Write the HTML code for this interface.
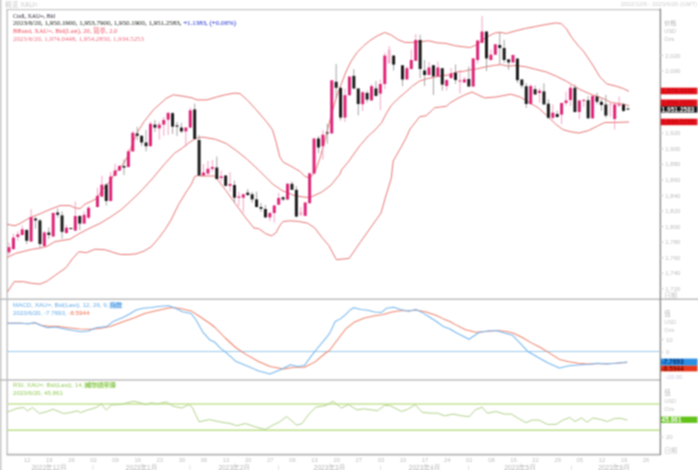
<!DOCTYPE html>
<html><head><meta charset="utf-8"><style>
html,body{margin:0;padding:0;background:#fff;width:698px;height:470px;overflow:hidden}
svg{display:block}
</style></head><body>
<svg width="698" height="470" viewBox="0 0 698 470">
<defs><filter id="bl" x="0" y="0" width="698" height="470" filterUnits="userSpaceOnUse" color-interpolation-filters="sRGB"><feConvolveMatrix order="3" kernelMatrix="0.0625 0.1250 0.0625 0.1250 0.2500 0.1250 0.0625 0.1250 0.0625" edgeMode="duplicate"/></filter></defs>
<g filter="url(#bl)">
<rect width="698" height="470" fill="#fff"/>
<rect x="0" y="0" width="1.6" height="470" fill="#cfcfcf"/>
<line x1="6.5" y1="9.6" x2="660.5" y2="9.6" stroke="#c6c6c6" stroke-width="1.4"/>
<line x1="7.2" y1="9" x2="7.2" y2="454.5" stroke="#c0c0c0" stroke-width="1.4"/>
<line x1="6.5" y1="454.6" x2="660.5" y2="454.6" stroke="#b5b5b5" stroke-width="1.6"/>
<line x1="0" y1="299.3" x2="698" y2="299.3" stroke="#bdbdbd" stroke-width="1.5"/>
<line x1="0" y1="380" x2="660" y2="380" stroke="#bdbdbd" stroke-width="1.5"/>
<line x1="660.4" y1="8.5" x2="660.4" y2="455" stroke="#8a8a8a" stroke-width="1.4"/>
<polyline points="7.0,224.3 15.0,225.8 20.0,223.5 30.0,217.6 40.0,213.8 50.0,209.4 60.0,205.6 70.0,205.6 75.0,207.9 80.0,208.6 85.0,204.2 93.0,200.5 97.4,198.0 101.8,190.0 106.2,186.0 110.7,180.0 115.1,173.0 119.5,168.0 123.9,163.0 128.4,155.0 132.8,143.0 137.0,133.0 144.0,121.7 153.7,109.5 161.0,103.0 166.0,98.5 173.3,94.8 185.0,96.5 192.0,97.9 197.0,99.9 207.0,99.9 217.7,96.7 226.2,94.6 234.7,93.1 240.0,93.6 247.2,99.9 256.3,109.9 267.1,122.5 272.5,129.8 276.2,142.4 279.8,156.9 283.4,162.3 290.6,166.0 300.0,171.4 304.9,176.5 310.0,178.0 315.0,172.0 320.0,158.0 325.0,140.0 330.0,120.0 335.0,102.0 339.0,90.0 346.3,71.0 351.0,61.5 357.0,52.5 364.0,45.5 370.0,40.5 377.0,36.0 384.7,32.5 390.9,34.8 397.8,39.5 404.7,42.4 411.5,42.5 420.1,41.6 428.7,40.8 437.3,42.8 445.9,43.4 454.5,45.6 463.1,46.8 470.3,47.5 477.2,44.4 485.8,37.5 494.4,33.2 499.5,32.3 506.4,33.5 515.0,31.0 525.3,28.5 535.6,26.5 545.9,24.5 556.2,22.9 561.4,23.7 566.5,28.9 571.7,37.5 578.6,46.1 583.4,51.1 592.8,65.1 599.8,76.8 606.8,83.9 616.2,86.2 623.2,88.5 629.0,91.4" fill="none" stroke="#e87474" stroke-width="1.0" stroke-opacity="1" stroke-linejoin="round"/>
<polyline points="7.0,257.5 15.7,253.4 31.5,249.4 41.0,247.9 47.2,246.3 55.0,241.6 70.0,239.2 80.0,233.2 90.0,228.0 100.0,223.4 110.6,217.0 121.3,209.6 131.9,200.0 142.6,189.4 153.2,177.7 163.8,164.9 174.5,153.2 181.0,149.0 190.0,142.0 196.4,138.2 202.8,137.1 215.5,139.3 226.2,143.5 236.8,151.0 247.4,159.5 258.1,169.5 266.6,178.0 272.6,184.0 282.0,190.5 293.7,195.3 303.0,197.0 310.0,197.5 321.8,192.0 331.1,185.0 340.0,174.0 341.5,170.0 349.0,161.0 353.0,155.1 360.0,145.5 368.3,136.0 375.0,130.0 381.7,122.6 386.0,114.0 391.3,105.3 399.0,97.7 404.9,92.8 412.4,86.1 419.8,80.9 427.3,78.6 434.7,77.1 442.2,75.6 449.6,74.9 457.1,71.9 464.5,71.2 468.6,70.1 477.2,68.8 485.8,66.8 494.4,65.3 501.2,64.6 508.1,66.2 515.0,65.5 525.3,66.7 535.6,69.3 545.9,71.9 556.2,76.2 566.5,81.3 573.4,85.6 580.0,89.5 590.0,94.0 602.0,98.0 611.5,102.6 620.9,103.8 629.0,105.5" fill="none" stroke="#e87474" stroke-width="1.0" stroke-opacity="1" stroke-linejoin="round"/>
<polyline points="7.4,292.0 14.2,281.7 23.6,281.7 31.5,283.3 40.2,284.1 47.2,281.0 55.1,275.4 66.1,267.6 72.4,258.9 78.7,251.8 86.6,252.6 95.0,249.2 105.5,249.8 112.5,252.2 120.7,254.5 128.9,254.5 136.0,253.9 144.1,251.0 151.1,246.9 158.2,238.7 165.2,229.4 171.0,220.0 178.7,204.3 187.2,190.4 191.5,184.0 194.7,176.6 197.9,175.5 202.0,176.0 214.9,176.0 218.7,181.0 225.8,190.4 235.1,203.3 244.5,216.2 253.9,228.0 258.7,228.7 265.8,233.7 271.5,235.8 275.8,233.0 280.1,225.1 283.0,221.5 290.2,220.8 298.4,221.4 307.7,223.2 314.8,228.0 321.8,237.3 328.8,245.5 336.4,259.7 349.1,258.4 360.6,241.8 381.0,213.0 385.5,197.0 389.5,184.0 391.3,178.0 393.2,161.0 400.9,147.5 406.0,138.0 410.0,129.0 414.0,124.0 419.8,116.6 425.8,115.9 431.7,110.7 434.7,107.7 440.7,107.0 446.6,106.2 449.6,103.2 457.1,98.7 464.5,95.0 472.0,92.0 480.0,95.8 484.7,97.9 495.9,97.0 510.8,94.2 520.1,97.0 529.4,102.6 538.7,108.2 548.0,116.6 555.5,124.0 562.9,129.6 570.0,131.6 578.7,133.0 588.1,130.7 597.5,126.0 604.5,122.5 613.9,122.5 629.0,122.0" fill="none" stroke="#e87474" stroke-width="1.0" stroke-opacity="1" stroke-linejoin="round"/>
<line x1="9.00" y1="242.7" x2="9.00" y2="254.8" stroke="#f19ac0" stroke-width="0.9"/>
<rect x="7.50" y="247.2" width="3.0" height="5.1" fill="#de2477"/>
<line x1="13.42" y1="233.8" x2="13.42" y2="250.0" stroke="#f19ac0" stroke-width="0.9"/>
<rect x="11.92" y="237.6" width="3.0" height="11.5" fill="#de2477"/>
<line x1="17.84" y1="231.3" x2="17.84" y2="240.8" stroke="#f19ac0" stroke-width="0.9"/>
<rect x="16.34" y="234.4" width="3.0" height="2.6" fill="#de2477"/>
<line x1="22.26" y1="225.5" x2="22.26" y2="235.5" stroke="#f19ac0" stroke-width="0.9"/>
<rect x="20.76" y="229.3" width="3.0" height="5.7" fill="#de2477"/>
<line x1="26.68" y1="229.0" x2="26.68" y2="244.0" stroke="#9a9a9a" stroke-width="0.9"/>
<rect x="25.18" y="230.0" width="3.0" height="10.8" fill="#1c1c1c"/>
<line x1="31.11" y1="209.0" x2="31.11" y2="241.8" stroke="#f19ac0" stroke-width="0.9"/>
<rect x="29.61" y="217.2" width="3.0" height="24.3" fill="#de2477"/>
<line x1="35.53" y1="217.0" x2="35.53" y2="228.7" stroke="#9a9a9a" stroke-width="0.9"/>
<rect x="34.03" y="218.5" width="3.0" height="1.9" fill="#1c1c1c"/>
<line x1="39.95" y1="219.0" x2="39.95" y2="247.8" stroke="#9a9a9a" stroke-width="0.9"/>
<rect x="38.45" y="220.4" width="3.0" height="23.6" fill="#1c1c1c"/>
<line x1="44.37" y1="231.0" x2="44.37" y2="247.0" stroke="#f19ac0" stroke-width="0.9"/>
<rect x="42.87" y="232.5" width="3.0" height="13.5" fill="#de2477"/>
<line x1="48.79" y1="227.4" x2="48.79" y2="239.0" stroke="#9a9a9a" stroke-width="0.9"/>
<rect x="47.29" y="232.5" width="3.0" height="2.5" fill="#1c1c1c"/>
<line x1="53.21" y1="212.0" x2="53.21" y2="237.0" stroke="#f19ac0" stroke-width="0.9"/>
<rect x="51.71" y="213.0" width="3.0" height="23.5" fill="#de2477"/>
<line x1="57.63" y1="208.4" x2="57.63" y2="217.7" stroke="#9a9a9a" stroke-width="0.9"/>
<rect x="56.13" y="212.5" width="3.0" height="2.3" fill="#1c1c1c"/>
<line x1="62.05" y1="211.3" x2="62.05" y2="238.8" stroke="#9a9a9a" stroke-width="0.9"/>
<rect x="60.55" y="215.4" width="3.0" height="16.4" fill="#1c1c1c"/>
<line x1="66.47" y1="224.8" x2="66.47" y2="234.0" stroke="#f19ac0" stroke-width="0.9"/>
<rect x="64.97" y="227.7" width="3.0" height="5.3" fill="#de2477"/>
<line x1="70.89" y1="227.5" x2="70.89" y2="229.5" stroke="#9a9a9a" stroke-width="0.9"/>
<rect x="69.39" y="228.0" width="3.0" height="1.0" fill="#1c1c1c"/>
<line x1="75.31" y1="201.4" x2="75.31" y2="231.0" stroke="#f19ac0" stroke-width="0.9"/>
<rect x="73.81" y="216.0" width="3.0" height="14.6" fill="#de2477"/>
<line x1="79.74" y1="215.0" x2="79.74" y2="230.0" stroke="#9a9a9a" stroke-width="0.9"/>
<rect x="78.24" y="216.0" width="3.0" height="7.6" fill="#1c1c1c"/>
<line x1="84.16" y1="211.3" x2="84.16" y2="224.0" stroke="#f19ac0" stroke-width="0.9"/>
<rect x="82.66" y="214.8" width="3.0" height="8.8" fill="#de2477"/>
<line x1="88.58" y1="206.0" x2="88.58" y2="219.0" stroke="#f19ac0" stroke-width="0.9"/>
<rect x="87.08" y="207.8" width="3.0" height="9.9" fill="#de2477"/>
<line x1="97.42" y1="187.7" x2="97.42" y2="207.5" stroke="#f19ac0" stroke-width="0.9"/>
<rect x="95.92" y="195.9" width="3.0" height="11.1" fill="#de2477"/>
<line x1="101.84" y1="175.8" x2="101.84" y2="197.0" stroke="#f19ac0" stroke-width="0.9"/>
<rect x="100.34" y="184.7" width="3.0" height="11.9" fill="#de2477"/>
<line x1="106.26" y1="183.0" x2="106.26" y2="205.6" stroke="#9a9a9a" stroke-width="0.9"/>
<rect x="104.76" y="184.7" width="3.0" height="16.3" fill="#1c1c1c"/>
<line x1="110.68" y1="172.0" x2="110.68" y2="201.5" stroke="#f19ac0" stroke-width="0.9"/>
<rect x="109.18" y="176.5" width="3.0" height="24.5" fill="#de2477"/>
<line x1="115.10" y1="163.8" x2="115.10" y2="176.0" stroke="#f19ac0" stroke-width="0.9"/>
<rect x="113.60" y="170.5" width="3.0" height="5.3" fill="#de2477"/>
<line x1="119.53" y1="165.0" x2="119.53" y2="171.0" stroke="#f19ac0" stroke-width="0.9"/>
<rect x="118.03" y="166.0" width="3.0" height="4.5" fill="#de2477"/>
<line x1="123.95" y1="159.4" x2="123.95" y2="175.0" stroke="#9a9a9a" stroke-width="0.9"/>
<rect x="122.45" y="166.0" width="3.0" height="1.6" fill="#1c1c1c"/>
<line x1="128.37" y1="149.0" x2="128.37" y2="167.5" stroke="#f19ac0" stroke-width="0.9"/>
<rect x="126.87" y="151.4" width="3.0" height="15.6" fill="#de2477"/>
<line x1="132.79" y1="131.0" x2="132.79" y2="152.0" stroke="#f19ac0" stroke-width="0.9"/>
<rect x="131.29" y="132.8" width="3.0" height="18.6" fill="#de2477"/>
<line x1="137.21" y1="126.8" x2="137.21" y2="140.2" stroke="#9a9a9a" stroke-width="0.9"/>
<rect x="135.71" y="133.5" width="3.0" height="2.3" fill="#1c1c1c"/>
<line x1="141.63" y1="135.0" x2="141.63" y2="146.0" stroke="#9a9a9a" stroke-width="0.9"/>
<rect x="140.13" y="135.8" width="3.0" height="6.7" fill="#1c1c1c"/>
<line x1="146.05" y1="129.8" x2="146.05" y2="151.4" stroke="#9a9a9a" stroke-width="0.9"/>
<rect x="144.55" y="142.5" width="3.0" height="3.7" fill="#1c1c1c"/>
<line x1="150.47" y1="121.6" x2="150.47" y2="146.5" stroke="#f19ac0" stroke-width="0.9"/>
<rect x="148.97" y="123.8" width="3.0" height="22.4" fill="#de2477"/>
<line x1="154.89" y1="120.0" x2="154.89" y2="132.0" stroke="#9a9a9a" stroke-width="0.9"/>
<rect x="153.39" y="124.6" width="3.0" height="3.0" fill="#1c1c1c"/>
<line x1="159.31" y1="121.6" x2="159.31" y2="139.5" stroke="#f19ac0" stroke-width="0.9"/>
<rect x="157.81" y="124.6" width="3.0" height="3.7" fill="#de2477"/>
<line x1="163.74" y1="117.0" x2="163.74" y2="135.8" stroke="#f19ac0" stroke-width="0.9"/>
<rect x="162.24" y="120.0" width="3.0" height="4.6" fill="#de2477"/>
<line x1="168.16" y1="112.0" x2="168.16" y2="135.0" stroke="#f19ac0" stroke-width="0.9"/>
<rect x="166.66" y="112.9" width="3.0" height="6.8" fill="#de2477"/>
<line x1="172.58" y1="112.0" x2="172.58" y2="134.0" stroke="#9a9a9a" stroke-width="0.9"/>
<rect x="171.08" y="113.2" width="3.0" height="13.4" fill="#1c1c1c"/>
<line x1="177.00" y1="121.8" x2="177.00" y2="136.0" stroke="#9a9a9a" stroke-width="0.9"/>
<rect x="175.50" y="125.4" width="3.0" height="1.2" fill="#1c1c1c"/>
<line x1="181.42" y1="122.8" x2="181.42" y2="133.0" stroke="#9a9a9a" stroke-width="0.9"/>
<rect x="179.92" y="127.6" width="3.0" height="3.8" fill="#1c1c1c"/>
<line x1="185.84" y1="127.0" x2="185.84" y2="146.7" stroke="#f19ac0" stroke-width="0.9"/>
<rect x="184.34" y="127.6" width="3.0" height="3.8" fill="#de2477"/>
<line x1="190.26" y1="107.5" x2="190.26" y2="128.0" stroke="#f19ac0" stroke-width="0.9"/>
<rect x="188.76" y="110.3" width="3.0" height="17.3" fill="#de2477"/>
<line x1="194.68" y1="103.6" x2="194.68" y2="139.5" stroke="#9a9a9a" stroke-width="0.9"/>
<rect x="193.18" y="109.4" width="3.0" height="29.6" fill="#1c1c1c"/>
<line x1="199.10" y1="135.0" x2="199.10" y2="176.0" stroke="#9a9a9a" stroke-width="0.9"/>
<rect x="197.60" y="140.0" width="3.0" height="35.5" fill="#1c1c1c"/>
<line x1="203.52" y1="164.0" x2="203.52" y2="176.0" stroke="#f19ac0" stroke-width="0.9"/>
<rect x="202.02" y="172.6" width="3.0" height="2.9" fill="#de2477"/>
<line x1="207.95" y1="161.0" x2="207.95" y2="175.5" stroke="#f19ac0" stroke-width="0.9"/>
<rect x="206.45" y="168.8" width="3.0" height="4.7" fill="#de2477"/>
<line x1="212.37" y1="160.0" x2="212.37" y2="171.6" stroke="#f19ac0" stroke-width="0.9"/>
<rect x="210.87" y="167.0" width="3.0" height="1.8" fill="#de2477"/>
<line x1="216.79" y1="156.5" x2="216.79" y2="179.5" stroke="#9a9a9a" stroke-width="0.9"/>
<rect x="215.29" y="167.5" width="3.0" height="11.5" fill="#1c1c1c"/>
<line x1="221.21" y1="170.4" x2="221.21" y2="181.5" stroke="#f19ac0" stroke-width="0.9"/>
<rect x="219.71" y="176.4" width="3.0" height="1.6" fill="#de2477"/>
<line x1="225.63" y1="175.0" x2="225.63" y2="186.5" stroke="#9a9a9a" stroke-width="0.9"/>
<rect x="224.13" y="175.5" width="3.0" height="10.3" fill="#1c1c1c"/>
<line x1="230.05" y1="172.0" x2="230.05" y2="191.7" stroke="#f19ac0" stroke-width="0.9"/>
<rect x="228.55" y="184.0" width="3.0" height="1.8" fill="#de2477"/>
<line x1="234.47" y1="180.7" x2="234.47" y2="202.8" stroke="#9a9a9a" stroke-width="0.9"/>
<rect x="232.97" y="185.0" width="3.0" height="12.7" fill="#1c1c1c"/>
<line x1="238.89" y1="191.7" x2="238.89" y2="206.0" stroke="#f19ac0" stroke-width="0.9"/>
<rect x="237.39" y="196.5" width="3.0" height="1.2" fill="#de2477"/>
<line x1="243.31" y1="193.4" x2="243.31" y2="212.2" stroke="#f19ac0" stroke-width="0.9"/>
<rect x="241.81" y="194.3" width="3.0" height="3.4" fill="#de2477"/>
<line x1="247.73" y1="189.0" x2="247.73" y2="196.0" stroke="#9a9a9a" stroke-width="0.9"/>
<rect x="246.23" y="192.6" width="3.0" height="2.4" fill="#1c1c1c"/>
<line x1="252.16" y1="192.0" x2="252.16" y2="203.0" stroke="#9a9a9a" stroke-width="0.9"/>
<rect x="250.66" y="194.3" width="3.0" height="5.1" fill="#1c1c1c"/>
<line x1="256.58" y1="191.7" x2="256.58" y2="207.5" stroke="#9a9a9a" stroke-width="0.9"/>
<rect x="255.08" y="199.4" width="3.0" height="7.6" fill="#1c1c1c"/>
<line x1="261.00" y1="203.0" x2="261.00" y2="212.0" stroke="#9a9a9a" stroke-width="0.9"/>
<rect x="259.50" y="207.0" width="3.0" height="1.8" fill="#1c1c1c"/>
<line x1="265.42" y1="205.0" x2="265.42" y2="218.0" stroke="#9a9a9a" stroke-width="0.9"/>
<rect x="263.92" y="209.0" width="3.0" height="8.4" fill="#1c1c1c"/>
<line x1="269.84" y1="212.0" x2="269.84" y2="221.0" stroke="#f19ac0" stroke-width="0.9"/>
<rect x="268.34" y="213.0" width="3.0" height="4.4" fill="#de2477"/>
<line x1="274.26" y1="205.0" x2="274.26" y2="222.6" stroke="#f19ac0" stroke-width="0.9"/>
<rect x="272.76" y="205.5" width="3.0" height="7.5" fill="#de2477"/>
<line x1="278.68" y1="192.8" x2="278.68" y2="205.0" stroke="#f19ac0" stroke-width="0.9"/>
<rect x="277.18" y="198.0" width="3.0" height="6.7" fill="#de2477"/>
<line x1="283.10" y1="196.0" x2="283.10" y2="201.0" stroke="#9a9a9a" stroke-width="0.9"/>
<rect x="281.60" y="197.3" width="3.0" height="2.2" fill="#1c1c1c"/>
<line x1="287.52" y1="183.0" x2="287.52" y2="200.0" stroke="#f19ac0" stroke-width="0.9"/>
<rect x="286.02" y="183.8" width="3.0" height="15.7" fill="#de2477"/>
<line x1="291.94" y1="181.6" x2="291.94" y2="190.0" stroke="#9a9a9a" stroke-width="0.9"/>
<rect x="290.44" y="183.8" width="3.0" height="6.0" fill="#1c1c1c"/>
<line x1="296.37" y1="186.0" x2="296.37" y2="217.0" stroke="#9a9a9a" stroke-width="0.9"/>
<rect x="294.87" y="189.8" width="3.0" height="26.8" fill="#1c1c1c"/>
<line x1="300.79" y1="207.0" x2="300.79" y2="216.0" stroke="#f19ac0" stroke-width="0.9"/>
<rect x="299.29" y="212.0" width="3.0" height="3.0" fill="#f5b5d0"/>
<line x1="305.21" y1="202.0" x2="305.21" y2="216.0" stroke="#f19ac0" stroke-width="0.9"/>
<rect x="303.71" y="202.5" width="3.0" height="13.4" fill="#de2477"/>
<line x1="309.63" y1="172.5" x2="309.63" y2="203.5" stroke="#f19ac0" stroke-width="0.9"/>
<rect x="308.13" y="173.4" width="3.0" height="29.8" fill="#de2477"/>
<line x1="314.05" y1="138.0" x2="314.05" y2="174.0" stroke="#f19ac0" stroke-width="0.9"/>
<rect x="312.55" y="138.5" width="3.0" height="35.1" fill="#de2477"/>
<line x1="318.47" y1="136.0" x2="318.47" y2="153.2" stroke="#9a9a9a" stroke-width="0.9"/>
<rect x="316.97" y="138.5" width="3.0" height="9.0" fill="#1c1c1c"/>
<line x1="322.89" y1="130.0" x2="322.89" y2="159.6" stroke="#f19ac0" stroke-width="0.9"/>
<rect x="321.39" y="134.7" width="3.0" height="11.5" fill="#de2477"/>
<line x1="327.31" y1="123.8" x2="327.31" y2="143.6" stroke="#9a9a9a" stroke-width="0.9"/>
<rect x="325.81" y="132.4" width="3.0" height="1.0" fill="#1c1c1c"/>
<line x1="331.73" y1="80.0" x2="331.73" y2="134.0" stroke="#f19ac0" stroke-width="0.9"/>
<rect x="330.23" y="80.3" width="3.0" height="53.1" fill="#de2477"/>
<line x1="336.15" y1="64.0" x2="336.15" y2="98.0" stroke="#9a9a9a" stroke-width="0.9"/>
<rect x="334.65" y="81.8" width="3.0" height="6.0" fill="#1c1c1c"/>
<line x1="340.58" y1="87.0" x2="340.58" y2="120.6" stroke="#9a9a9a" stroke-width="0.9"/>
<rect x="339.08" y="87.8" width="3.0" height="29.8" fill="#1c1c1c"/>
<line x1="345.00" y1="88.5" x2="345.00" y2="122.0" stroke="#f19ac0" stroke-width="0.9"/>
<rect x="343.50" y="95.2" width="3.0" height="22.4" fill="#de2477"/>
<line x1="349.42" y1="76.0" x2="349.42" y2="96.0" stroke="#f19ac0" stroke-width="0.9"/>
<rect x="347.92" y="76.6" width="3.0" height="18.6" fill="#de2477"/>
<line x1="353.84" y1="69.2" x2="353.84" y2="89.0" stroke="#9a9a9a" stroke-width="0.9"/>
<rect x="352.34" y="75.9" width="3.0" height="12.6" fill="#1c1c1c"/>
<line x1="358.26" y1="88.0" x2="358.26" y2="115.3" stroke="#9a9a9a" stroke-width="0.9"/>
<rect x="356.76" y="88.5" width="3.0" height="15.5" fill="#1c1c1c"/>
<line x1="362.68" y1="91.0" x2="362.68" y2="111.0" stroke="#f19ac0" stroke-width="0.9"/>
<rect x="361.18" y="92.3" width="3.0" height="11.9" fill="#de2477"/>
<line x1="367.10" y1="90.7" x2="367.10" y2="102.6" stroke="#9a9a9a" stroke-width="0.9"/>
<rect x="365.60" y="93.0" width="3.0" height="6.6" fill="#1c1c1c"/>
<line x1="371.52" y1="84.0" x2="371.52" y2="101.0" stroke="#f19ac0" stroke-width="0.9"/>
<rect x="370.02" y="86.2" width="3.0" height="14.2" fill="#de2477"/>
<line x1="375.94" y1="81.0" x2="375.94" y2="96.5" stroke="#9a9a9a" stroke-width="0.9"/>
<rect x="374.44" y="88.4" width="3.0" height="7.5" fill="#1c1c1c"/>
<line x1="380.36" y1="79.5" x2="380.36" y2="110.0" stroke="#f19ac0" stroke-width="0.9"/>
<rect x="378.86" y="84.0" width="3.0" height="9.6" fill="#de2477"/>
<line x1="384.79" y1="52.7" x2="384.79" y2="89.0" stroke="#f19ac0" stroke-width="0.9"/>
<rect x="383.29" y="55.6" width="3.0" height="28.4" fill="#de2477"/>
<line x1="389.21" y1="46.0" x2="389.21" y2="64.0" stroke="#f19ac0" stroke-width="0.9"/>
<rect x="387.71" y="49.7" width="3.0" height="13.3" fill="#f5b5d0"/>
<line x1="393.63" y1="55.0" x2="393.63" y2="70.5" stroke="#9a9a9a" stroke-width="0.9"/>
<rect x="392.13" y="55.6" width="3.0" height="9.0" fill="#1c1c1c"/>
<line x1="402.47" y1="65.0" x2="402.47" y2="86.2" stroke="#9a9a9a" stroke-width="0.9"/>
<rect x="400.97" y="65.3" width="3.0" height="14.2" fill="#1c1c1c"/>
<line x1="406.89" y1="66.0" x2="406.89" y2="80.0" stroke="#f19ac0" stroke-width="0.9"/>
<rect x="405.39" y="68.2" width="3.0" height="11.2" fill="#de2477"/>
<line x1="411.31" y1="49.6" x2="411.31" y2="69.5" stroke="#f19ac0" stroke-width="0.9"/>
<rect x="409.81" y="60.0" width="3.0" height="9.0" fill="#de2477"/>
<line x1="415.73" y1="34.0" x2="415.73" y2="61.0" stroke="#f19ac0" stroke-width="0.9"/>
<rect x="414.23" y="40.0" width="3.0" height="20.8" fill="#de2477"/>
<line x1="420.15" y1="34.7" x2="420.15" y2="78.0" stroke="#9a9a9a" stroke-width="0.9"/>
<rect x="418.65" y="40.0" width="3.0" height="29.0" fill="#1c1c1c"/>
<line x1="424.57" y1="60.0" x2="424.57" y2="86.0" stroke="#9a9a9a" stroke-width="0.9"/>
<rect x="423.07" y="70.5" width="3.0" height="4.5" fill="#1c1c1c"/>
<line x1="429.00" y1="62.0" x2="429.00" y2="75.5" stroke="#f19ac0" stroke-width="0.9"/>
<rect x="427.50" y="67.5" width="3.0" height="7.5" fill="#de2477"/>
<line x1="433.42" y1="65.0" x2="433.42" y2="95.0" stroke="#9a9a9a" stroke-width="0.9"/>
<rect x="431.92" y="65.2" width="3.0" height="11.2" fill="#1c1c1c"/>
<line x1="437.84" y1="61.5" x2="437.84" y2="77.0" stroke="#f19ac0" stroke-width="0.9"/>
<rect x="436.34" y="67.5" width="3.0" height="8.9" fill="#de2477"/>
<line x1="442.26" y1="68.0" x2="442.26" y2="90.6" stroke="#9a9a9a" stroke-width="0.9"/>
<rect x="440.76" y="68.2" width="3.0" height="16.4" fill="#1c1c1c"/>
<line x1="446.68" y1="79.0" x2="446.68" y2="90.6" stroke="#f19ac0" stroke-width="0.9"/>
<rect x="445.18" y="80.0" width="3.0" height="6.0" fill="#de2477"/>
<line x1="451.10" y1="68.0" x2="451.10" y2="79.0" stroke="#f19ac0" stroke-width="0.9"/>
<rect x="449.60" y="73.4" width="3.0" height="4.6" fill="#de2477"/>
<line x1="455.52" y1="64.5" x2="455.52" y2="83.9" stroke="#9a9a9a" stroke-width="0.9"/>
<rect x="454.02" y="72.7" width="3.0" height="7.3" fill="#1c1c1c"/>
<line x1="459.94" y1="70.0" x2="459.94" y2="93.5" stroke="#f19ac0" stroke-width="0.9"/>
<rect x="458.44" y="80.5" width="3.0" height="1.0" fill="#de2477"/>
<line x1="464.36" y1="77.0" x2="464.36" y2="83.0" stroke="#f19ac0" stroke-width="0.9"/>
<rect x="462.86" y="79.4" width="3.0" height="3.0" fill="#de2477"/>
<line x1="468.78" y1="66.6" x2="468.78" y2="87.0" stroke="#9a9a9a" stroke-width="0.9"/>
<rect x="467.28" y="79.0" width="3.0" height="7.5" fill="#1c1c1c"/>
<line x1="473.21" y1="58.0" x2="473.21" y2="87.0" stroke="#f19ac0" stroke-width="0.9"/>
<rect x="471.71" y="58.4" width="3.0" height="28.1" fill="#de2477"/>
<line x1="477.63" y1="40.0" x2="477.63" y2="63.6" stroke="#f19ac0" stroke-width="0.9"/>
<rect x="476.13" y="40.5" width="3.0" height="19.5" fill="#de2477"/>
<line x1="482.05" y1="16.0" x2="482.05" y2="43.0" stroke="#f19ac0" stroke-width="0.9"/>
<rect x="480.55" y="31.6" width="3.0" height="11.2" fill="#de2477"/>
<line x1="486.47" y1="31.0" x2="486.47" y2="71.0" stroke="#9a9a9a" stroke-width="0.9"/>
<rect x="484.97" y="31.6" width="3.0" height="26.8" fill="#1c1c1c"/>
<line x1="490.89" y1="49.5" x2="490.89" y2="60.5" stroke="#f19ac0" stroke-width="0.9"/>
<rect x="489.39" y="54.7" width="3.0" height="5.3" fill="#de2477"/>
<line x1="495.31" y1="44.0" x2="495.31" y2="55.0" stroke="#f19ac0" stroke-width="0.9"/>
<rect x="493.81" y="44.3" width="3.0" height="10.4" fill="#de2477"/>
<line x1="499.73" y1="32.0" x2="499.73" y2="64.0" stroke="#9a9a9a" stroke-width="0.9"/>
<rect x="498.23" y="45.0" width="3.0" height="3.0" fill="#1c1c1c"/>
<line x1="504.15" y1="39.8" x2="504.15" y2="63.0" stroke="#9a9a9a" stroke-width="0.9"/>
<rect x="502.65" y="48.0" width="3.0" height="12.0" fill="#1c1c1c"/>
<line x1="508.57" y1="59.0" x2="508.57" y2="69.8" stroke="#9a9a9a" stroke-width="0.9"/>
<rect x="507.07" y="59.4" width="3.0" height="3.0" fill="#1c1c1c"/>
<line x1="512.99" y1="54.5" x2="512.99" y2="63.0" stroke="#f19ac0" stroke-width="0.9"/>
<rect x="511.49" y="55.0" width="3.0" height="7.4" fill="#de2477"/>
<line x1="517.41" y1="58.0" x2="517.41" y2="83.0" stroke="#9a9a9a" stroke-width="0.9"/>
<rect x="515.91" y="58.6" width="3.0" height="21.6" fill="#1c1c1c"/>
<line x1="521.84" y1="79.0" x2="521.84" y2="88.4" stroke="#9a9a9a" stroke-width="0.9"/>
<rect x="520.34" y="79.5" width="3.0" height="6.0" fill="#1c1c1c"/>
<line x1="526.26" y1="83.0" x2="526.26" y2="108.0" stroke="#9a9a9a" stroke-width="0.9"/>
<rect x="524.76" y="86.2" width="3.0" height="17.8" fill="#1c1c1c"/>
<line x1="530.68" y1="84.0" x2="530.68" y2="105.0" stroke="#f19ac0" stroke-width="0.9"/>
<rect x="529.18" y="86.0" width="3.0" height="18.0" fill="#de2477"/>
<line x1="535.10" y1="85.5" x2="535.10" y2="95.0" stroke="#9a9a9a" stroke-width="0.9"/>
<rect x="533.60" y="89.2" width="3.0" height="5.2" fill="#1c1c1c"/>
<line x1="539.52" y1="88.0" x2="539.52" y2="102.6" stroke="#f19ac0" stroke-width="0.9"/>
<rect x="538.02" y="90.7" width="3.0" height="2.3" fill="#de2477"/>
<line x1="543.94" y1="83.3" x2="543.94" y2="105.0" stroke="#9a9a9a" stroke-width="0.9"/>
<rect x="542.44" y="91.4" width="3.0" height="13.0" fill="#1c1c1c"/>
<line x1="548.36" y1="99.3" x2="548.36" y2="119.0" stroke="#9a9a9a" stroke-width="0.9"/>
<rect x="546.86" y="103.7" width="3.0" height="14.1" fill="#1c1c1c"/>
<line x1="552.78" y1="104.4" x2="552.78" y2="119.7" stroke="#f19ac0" stroke-width="0.9"/>
<rect x="551.28" y="112.7" width="3.0" height="5.1" fill="#de2477"/>
<line x1="557.20" y1="110.7" x2="557.20" y2="117.8" stroke="#9a9a9a" stroke-width="0.9"/>
<rect x="555.70" y="114.0" width="3.0" height="3.0" fill="#1c1c1c"/>
<line x1="561.62" y1="102.5" x2="561.62" y2="124.0" stroke="#f19ac0" stroke-width="0.9"/>
<rect x="560.12" y="103.0" width="3.0" height="11.6" fill="#de2477"/>
<line x1="566.05" y1="91.6" x2="566.05" y2="105.6" stroke="#f19ac0" stroke-width="0.9"/>
<rect x="564.55" y="100.5" width="3.0" height="2.5" fill="#de2477"/>
<line x1="570.47" y1="85.2" x2="570.47" y2="106.0" stroke="#f19ac0" stroke-width="0.9"/>
<rect x="568.97" y="87.8" width="3.0" height="12.2" fill="#de2477"/>
<line x1="574.89" y1="84.6" x2="574.89" y2="112.5" stroke="#9a9a9a" stroke-width="0.9"/>
<rect x="573.39" y="87.8" width="3.0" height="24.2" fill="#1c1c1c"/>
<line x1="579.31" y1="100.0" x2="579.31" y2="119.0" stroke="#f19ac0" stroke-width="0.9"/>
<rect x="577.81" y="100.5" width="3.0" height="11.5" fill="#de2477"/>
<line x1="583.73" y1="98.6" x2="583.73" y2="107.0" stroke="#f19ac0" stroke-width="0.9"/>
<rect x="582.23" y="100.0" width="3.0" height="1.0" fill="#de2477"/>
<line x1="588.15" y1="96.0" x2="588.15" y2="118.8" stroke="#9a9a9a" stroke-width="0.9"/>
<rect x="586.65" y="100.2" width="3.0" height="18.1" fill="#1c1c1c"/>
<line x1="592.57" y1="95.5" x2="592.57" y2="118.8" stroke="#f19ac0" stroke-width="0.9"/>
<rect x="591.07" y="96.0" width="3.0" height="22.3" fill="#de2477"/>
<line x1="596.99" y1="92.8" x2="596.99" y2="104.5" stroke="#9a9a9a" stroke-width="0.9"/>
<rect x="595.49" y="96.5" width="3.0" height="5.3" fill="#1c1c1c"/>
<line x1="601.41" y1="98.6" x2="601.41" y2="110.9" stroke="#9a9a9a" stroke-width="0.9"/>
<rect x="599.91" y="101.8" width="3.0" height="3.2" fill="#1c1c1c"/>
<line x1="605.84" y1="94.9" x2="605.84" y2="117.8" stroke="#9a9a9a" stroke-width="0.9"/>
<rect x="604.34" y="104.5" width="3.0" height="11.1" fill="#1c1c1c"/>
<line x1="610.26" y1="103.0" x2="610.26" y2="116.7" stroke="#f19ac0" stroke-width="0.9"/>
<rect x="608.76" y="104.0" width="3.0" height="1.0" fill="#f5b5d0"/>
<line x1="614.68" y1="103.0" x2="614.68" y2="129.5" stroke="#f19ac0" stroke-width="0.9"/>
<rect x="613.18" y="104.5" width="3.0" height="14.5" fill="#de2477"/>
<line x1="619.10" y1="96.5" x2="619.10" y2="107.0" stroke="#f19ac0" stroke-width="0.9"/>
<rect x="617.60" y="104.5" width="3.0" height="1.0" fill="#de2477"/>
<line x1="623.52" y1="103.0" x2="623.52" y2="112.0" stroke="#9a9a9a" stroke-width="0.9"/>
<rect x="622.02" y="104.5" width="3.0" height="6.4" fill="#1c1c1c"/>
<line x1="627.94" y1="106.9" x2="627.94" y2="110.0" stroke="#9a9a9a" stroke-width="0.9"/>
<rect x="626.44" y="108.6" width="3.0" height="1.0" fill="#1c1c1c"/>
<line x1="7" y1="351.5" x2="660" y2="351.5" stroke="#9ccaea" stroke-width="1.2"/>
<polyline points="7.4,323.3 20.7,323.3 28.6,323.8 34.9,322.7 41.2,325.2 47.5,326.2 57.0,326.2 68.0,327.7 79.0,329.0 90.0,329.3 99.5,328.6 110.3,326.4 122.3,322.0 134.4,317.8 144.7,313.5 155.0,310.9 165.3,308.7 172.2,307.5 179.0,308.3 191.1,310.9 199.7,316.5 210.0,323.5 215.0,327.5 225.3,338.0 235.6,347.5 245.9,354.4 258.0,361.2 270.0,366.4 283.7,369.0 294.0,367.3 304.3,367.3 314.7,362.1 325.0,353.5 330.0,349.8 336.9,340.5 345.5,329.2 354.0,322.3 364.4,318.0 374.7,315.8 383.3,314.6 391.9,312.0 400.4,310.7 409.0,310.7 415.9,310.0 426.2,312.0 436.5,315.5 443.4,318.9 450.0,321.5 455.3,324.6 465.6,329.8 475.9,332.3 486.2,331.5 496.5,330.6 506.9,331.5 513.7,333.2 522.3,337.5 530.9,342.6 539.5,347.0 548.1,352.1 559.4,359.4 568.9,361.8 578.3,363.3 587.8,364.1 597.2,363.8 606.7,363.8 616.1,363.3 627.2,362.6" fill="none" stroke="#ee866e" stroke-width="1.05" stroke-opacity="1" stroke-linejoin="round"/>
<polyline points="7.4,323.3 20.7,323.3 28.6,323.8 34.9,322.7 41.2,325.4 47.5,327.7 55.4,327.0 64.8,329.0 72.7,330.6 80.6,331.7 88.5,330.9 96.3,327.7 100.0,327.2 106.9,326.4 113.7,321.2 122.3,317.8 129.2,314.3 136.1,310.0 143.0,308.3 151.5,307.5 160.1,306.2 168.7,305.7 175.6,308.3 182.5,311.7 191.1,313.5 196.2,320.3 203.1,332.4 210.0,340.1 215.0,342.3 220.0,347.8 225.3,351.8 235.6,361.2 245.9,365.5 258.0,370.7 270.0,374.1 280.3,369.8 290.6,364.7 297.5,366.4 304.3,365.5 311.2,356.1 318.1,347.5 326.7,337.2 330.0,332.6 335.2,321.5 340.3,318.9 345.5,314.6 350.6,309.5 354.0,307.7 360.9,309.5 367.8,310.3 374.7,312.0 381.5,312.4 386.7,308.2 393.6,307.2 400.4,309.5 409.0,311.2 415.9,309.5 422.8,312.9 429.7,317.2 436.5,321.5 443.4,326.6 450.0,329.0 455.3,332.3 469.0,339.2 479.4,332.3 488.0,331.0 496.5,330.6 505.1,333.2 512.0,334.9 518.9,341.8 527.5,351.2 537.8,357.3 548.1,363.0 559.4,368.1 568.9,365.7 578.3,364.9 587.8,364.6 597.2,363.3 606.7,364.1 616.1,363.3 627.2,362.1" fill="none" stroke="#76b6ee" stroke-width="1.05" stroke-opacity="1" stroke-linejoin="round"/>
<line x1="7" y1="404" x2="660" y2="404" stroke="#c4e294" stroke-width="1.4"/>
<line x1="7" y1="430.2" x2="660" y2="430.2" stroke="#bde08a" stroke-width="1.4"/>
<polyline points="7.4,412.0 10.2,410.9 17.0,408.4 23.9,407.5 27.3,410.9 32.5,407.5 39.4,413.5 46.2,411.8 53.1,409.2 63.4,413.5 70.3,412.6 77.2,410.9 80.6,412.6 87.5,410.1 96.1,407.5 101.2,404.1 106.4,410.1 111.5,404.9 120.0,404.6 126.9,402.9 133.7,401.2 138.9,402.4 145.8,404.6 150.9,402.9 157.8,403.7 166.4,402.0 173.3,406.3 181.9,408.0 188.7,404.6 192.2,407.2 199.0,421.8 209.3,419.6 219.7,421.8 230.0,423.5 236.8,425.7 245.3,423.5 255.6,426.9 265.1,429.5 272.8,425.2 279.7,421.8 286.5,416.6 296.9,425.2 302.0,423.5 308.9,414.1 315.8,407.2 326.1,405.5 332.9,401.2 341.5,408.0 348.4,404.6 356.9,409.8 363.7,408.9 370.6,409.8 377.5,410.6 384.4,405.5 389.5,405.5 394.7,408.0 401.5,411.5 408.4,408.9 415.3,404.6 422.2,412.3 430.8,413.2 437.6,413.2 444.5,415.8 453.1,414.1 461.7,415.8 469.3,416.6 475.3,409.8 482.2,407.2 487.3,413.2 495.9,411.5 504.5,414.1 511.4,414.1 518.3,418.4 526.0,422.6 532.0,420.1 538.9,420.1 547.5,424.4 556.1,424.4 562.9,420.1 569.8,417.5 575.0,421.5 581.5,417.9 587.2,422.2 593.0,417.9 600.1,419.4 607.3,421.5 614.4,418.6 620.2,418.2 627.3,420.1" fill="none" stroke="#b2d28c" stroke-width="1.0" stroke-opacity="1" stroke-linejoin="round"/>
<g font-family="Liberation Sans, Noto Sans CJK SC, sans-serif">
<text x="5" y="6.5" font-size="6.4" fill="#cacaca" textLength="33" lengthAdjust="spacingAndGlyphs">概览 XAU=</text>
<text x="697" y="6.2" font-size="5.9" fill="#cfcfcf" text-anchor="end">2022/12/6 - 2023/6/20 (GMT)</text>
<g font-family="Liberation Serif, Noto Serif CJK SC, serif" stroke-width="0.1">
<text x="13" y="18.4" font-size="6.3" fill="#554c5c" stroke="#554c5c" textLength="42" lengthAdjust="spacingAndGlyphs">Cndl, XAU=, Bid</text>
<text x="13" y="25.4" font-size="6.8" fill="#444c44" stroke="#444c44" textLength="223" lengthAdjust="spacingAndGlyphs">2023/6/20, 1,950.1900, 1,953.7900, 1,950.1900, 1,951.2583, <tspan fill="#4050d8" stroke="#4050d8">+1.1383, (+0.06%)</tspan></text>
<text x="13" y="33.2" font-size="6.6" fill="#ec4c5e" textLength="104.3" lengthAdjust="spacingAndGlyphs">BBand, XAU=, Bid(Last), 20, 简单, 2.0</text>
<text x="13" y="40.7" font-size="6.8" fill="#f26a80" textLength="131" lengthAdjust="spacingAndGlyphs">2023/6/20, 1,974.0448, 1,954.2850, 1,934.5253</text>
</g>
</g>
<g font-family="Liberation Sans, Noto Sans CJK SC, sans-serif"><line x1="660" y1="55.4" x2="663.5" y2="55.4" stroke="#c4c4c4" stroke-width="0.8"/>
<text x="665.3" y="57.5" font-size="6" fill="#bdbdbd">2,020</text>
<line x1="660" y1="71.0" x2="663.5" y2="71.0" stroke="#c4c4c4" stroke-width="0.8"/>
<text x="665.3" y="73.1" font-size="6" fill="#bdbdbd">2,000</text>
<line x1="660" y1="133.2" x2="663.5" y2="133.2" stroke="#c4c4c4" stroke-width="0.8"/>
<text x="665.3" y="135.3" font-size="6" fill="#bdbdbd">1,920</text>
<line x1="660" y1="148.8" x2="663.5" y2="148.8" stroke="#c4c4c4" stroke-width="0.8"/>
<text x="665.3" y="150.9" font-size="6" fill="#bdbdbd">1,900</text>
<line x1="660" y1="164.3" x2="663.5" y2="164.3" stroke="#c4c4c4" stroke-width="0.8"/>
<text x="665.3" y="166.4" font-size="6" fill="#bdbdbd">1,880</text>
<line x1="660" y1="179.9" x2="663.5" y2="179.9" stroke="#c4c4c4" stroke-width="0.8"/>
<text x="665.3" y="182.0" font-size="6" fill="#bdbdbd">1,860</text>
<line x1="660" y1="195.4" x2="663.5" y2="195.4" stroke="#c4c4c4" stroke-width="0.8"/>
<text x="665.3" y="197.5" font-size="6" fill="#bdbdbd">1,840</text>
<line x1="660" y1="211.0" x2="663.5" y2="211.0" stroke="#c4c4c4" stroke-width="0.8"/>
<text x="665.3" y="213.1" font-size="6" fill="#bdbdbd">1,820</text>
<line x1="660" y1="226.6" x2="663.5" y2="226.6" stroke="#c4c4c4" stroke-width="0.8"/>
<text x="665.3" y="228.7" font-size="6" fill="#bdbdbd">1,800</text>
<line x1="660" y1="242.1" x2="663.5" y2="242.1" stroke="#c4c4c4" stroke-width="0.8"/>
<text x="665.3" y="244.2" font-size="6" fill="#bdbdbd">1,780</text>
<line x1="660" y1="257.7" x2="663.5" y2="257.7" stroke="#c4c4c4" stroke-width="0.8"/>
<text x="665.3" y="259.8" font-size="6" fill="#bdbdbd">1,760</text>
<line x1="660" y1="273.2" x2="663.5" y2="273.2" stroke="#c4c4c4" stroke-width="0.8"/>
<text x="665.3" y="275.3" font-size="6" fill="#bdbdbd">1,740</text>
<line x1="660" y1="288.8" x2="663.5" y2="288.8" stroke="#c4c4c4" stroke-width="0.8"/>
<text x="665.3" y="290.9" font-size="6" fill="#bdbdbd">1,720</text>
<text x="664.3" y="25" font-size="6" fill="#b0b0b0">价格</text>
<text x="664.3" y="32.6" font-size="5.6" fill="#bdbdbd">USD</text>
<text x="664.3" y="40.6" font-size="5.6" fill="#bdbdbd">Ozs</text>
<text x="664.3" y="297.5" font-size="6.5" fill="#c8c8c8">日期</text>
<rect x="660.8" y="87.7" width="36.6" height="6.6" fill="#e5141c"/><text x="661.5" y="93.2" font-size="6.3" font-weight="bold" letter-spacing="0.15" fill="#cc0812">1,974.0448</text>
<rect x="660.8" y="99.5" width="36.6" height="7.0" fill="#e5141c"/><text x="661.5" y="105.2" font-size="6.3" font-weight="bold" letter-spacing="0.15" fill="#cc0812">1,954.2850</text>
<rect x="660.8" y="106.3" width="36.6" height="6.3" fill="#141414"/><text x="661.5" y="111.6" font-size="6.3" font-weight="bold" letter-spacing="0.15" fill="#ffffff">1,951.2583</text>
<rect x="660.8" y="118.7" width="36.6" height="6.5" fill="#e5141c"/><text x="661.5" y="124.2" font-size="6.3" font-weight="bold" letter-spacing="0.15" fill="#cc0812">1,934.5253</text>
<text x="664.3" y="316.3" font-size="6.5" fill="#bdbdbd">值</text>
<text x="664.3" y="323.6" font-size="5.6" fill="#c4c4c4">USD</text>
<text x="664.3" y="332" font-size="5.6" fill="#c4c4c4">Ozs</text>
<line x1="660" y1="339.4" x2="663.5" y2="339.4" stroke="#c4c4c4" stroke-width="0.8"/>
<text x="666" y="341.5" font-size="6" fill="#c0c0c0">10</text>
<line x1="660" y1="352.1" x2="663.5" y2="352.1" stroke="#c4c4c4" stroke-width="0.8"/>
<text x="666" y="354.2" font-size="6" fill="#c0c0c0">0</text>
<rect x="660.8" y="358.6" width="36.6" height="7.1" fill="#2b8fe3"/><text x="661.5" y="364.3" font-size="6.3" font-weight="bold" letter-spacing="0.15" fill="#0a2a6a">-7.7693</text>
<rect x="660.8" y="365.7" width="36.6" height="5.7" fill="#e9381c"/><text x="661.5" y="370.7" font-size="6.3" font-weight="bold" letter-spacing="0.15" fill="#7a0a00">-8.5944</text>
<text x="665.3" y="378.8" font-size="6" fill="#cfc8e0">-20.00</text>
<text x="664.3" y="395.2" font-size="6.5" fill="#bdbdbd">值</text>
<text x="664.3" y="402.6" font-size="5.6" fill="#c4c4c4">USD</text>
<text x="664.3" y="410.8" font-size="5.6" fill="#c4c4c4">Ozs</text>
<line x1="660" y1="437" x2="663.5" y2="437" stroke="#c4c4c4" stroke-width="0.8"/>
<text x="666" y="439.2" font-size="6" fill="#c0c0c0">20</text>
<rect x="660.8" y="416.6" width="36.6" height="6.3" fill="#62c21a"/><text x="661.5" y="421.9" font-size="6.3" font-weight="bold" letter-spacing="0.15" fill="#ffffff">45.861</text>
<text x="664.3" y="452.8" font-size="6.5" fill="#c8c8c8">日期</text>
<text x="27.2" y="462.2" font-size="5.8" fill="#c0c0c0" text-anchor="middle">12</text>
<text x="49.3" y="462.2" font-size="5.8" fill="#c0c0c0" text-anchor="middle">19</text>
<text x="71.4" y="462.2" font-size="5.8" fill="#c0c0c0" text-anchor="middle">26</text>
<text x="93.5" y="462.2" font-size="5.8" fill="#c0c0c0" text-anchor="middle">02</text>
<text x="115.6" y="462.2" font-size="5.8" fill="#c0c0c0" text-anchor="middle">09</text>
<text x="137.7" y="462.2" font-size="5.8" fill="#c0c0c0" text-anchor="middle">16</text>
<text x="159.8" y="462.2" font-size="5.8" fill="#c0c0c0" text-anchor="middle">23</text>
<text x="181.9" y="462.2" font-size="5.8" fill="#c0c0c0" text-anchor="middle">30</text>
<text x="204.0" y="462.2" font-size="5.8" fill="#c0c0c0" text-anchor="middle">06</text>
<text x="226.1" y="462.2" font-size="5.8" fill="#c0c0c0" text-anchor="middle">13</text>
<text x="248.2" y="462.2" font-size="5.8" fill="#c0c0c0" text-anchor="middle">20</text>
<text x="270.3" y="462.2" font-size="5.8" fill="#c0c0c0" text-anchor="middle">27</text>
<text x="292.4" y="462.2" font-size="5.8" fill="#c0c0c0" text-anchor="middle">06</text>
<text x="314.5" y="462.2" font-size="5.8" fill="#c0c0c0" text-anchor="middle">13</text>
<text x="336.7" y="462.2" font-size="5.8" fill="#c0c0c0" text-anchor="middle">20</text>
<text x="358.8" y="462.2" font-size="5.8" fill="#c0c0c0" text-anchor="middle">27</text>
<text x="380.9" y="462.2" font-size="5.8" fill="#c0c0c0" text-anchor="middle">03</text>
<text x="403.0" y="462.2" font-size="5.8" fill="#c0c0c0" text-anchor="middle">10</text>
<text x="425.1" y="462.2" font-size="5.8" fill="#c0c0c0" text-anchor="middle">17</text>
<text x="447.2" y="462.2" font-size="5.8" fill="#c0c0c0" text-anchor="middle">24</text>
<text x="469.3" y="462.2" font-size="5.8" fill="#c0c0c0" text-anchor="middle">01</text>
<text x="491.4" y="462.2" font-size="5.8" fill="#c0c0c0" text-anchor="middle">08</text>
<text x="513.5" y="462.2" font-size="5.8" fill="#c0c0c0" text-anchor="middle">15</text>
<text x="535.6" y="462.2" font-size="5.8" fill="#c0c0c0" text-anchor="middle">22</text>
<text x="557.7" y="462.2" font-size="5.8" fill="#c0c0c0" text-anchor="middle">29</text>
<text x="579.8" y="462.2" font-size="5.8" fill="#c0c0c0" text-anchor="middle">05</text>
<text x="601.9" y="462.2" font-size="5.8" fill="#c0c0c0" text-anchor="middle">12</text>
<text x="624.0" y="462.2" font-size="5.8" fill="#c0c0c0" text-anchor="middle">19</text>
<text x="646.1" y="462.2" font-size="5.8" fill="#c0c0c0" text-anchor="middle">26</text>
<text x="93" y="469.3" font-size="5.6" fill="#c8c8c8" text-anchor="middle">|</text>
<text x="190" y="469.3" font-size="5.6" fill="#c8c8c8" text-anchor="middle">|</text>
<text x="278.4" y="469.3" font-size="5.6" fill="#c8c8c8" text-anchor="middle">|</text>
<text x="380.7" y="469.3" font-size="5.6" fill="#c8c8c8" text-anchor="middle">|</text>
<text x="468.4" y="469.3" font-size="5.6" fill="#c8c8c8" text-anchor="middle">|</text>
<text x="571.8" y="469.3" font-size="5.6" fill="#c8c8c8" text-anchor="middle">|</text>
<text x="49" y="469.8" font-size="6.6" fill="#b8b8b8" text-anchor="middle">2022年12月</text>
<text x="141.6" y="469.8" font-size="6.6" fill="#b8b8b8" text-anchor="middle">2023年1月</text>
<text x="234.2" y="469.8" font-size="6.6" fill="#b8b8b8" text-anchor="middle">2023年2月</text>
<text x="329.5" y="469.8" font-size="6.6" fill="#b8b8b8" text-anchor="middle">2023年3月</text>
<text x="424.5" y="469.8" font-size="6.6" fill="#b8b8b8" text-anchor="middle">2023年4月</text>
<text x="520" y="469.8" font-size="6.6" fill="#b8b8b8" text-anchor="middle">2023年5月</text>
<text x="614" y="469.8" font-size="6.6" fill="#b8b8b8" text-anchor="middle">2023年6月</text>
<rect x="109.3" y="302.2" width="11.8" height="6.2" fill="#c2e0f8"/>
<text x="13" y="307.4" font-size="6.2" fill="#6aaee8">MACD, XAU=, Bid(Last), 12, 26, 9, <tspan fill="#3d8fe0">指数</tspan></text>
<text x="13" y="314.6" font-size="6.2" fill="#6aaee8">2023/6/20, -7.7693, <tspan fill="#f07050">-8.5944</tspan></text>
<rect x="84" y="382" width="31.5" height="6.2" fill="#e2f5c8"/>
<text x="13" y="387.3" font-size="6.2" fill="#96cc5c">RSI, XAU=, Bid(Last), 14, <tspan fill="#6cb030">威尔德平滑</tspan></text>
<text x="13" y="394.5" font-size="6.2" fill="#96cc5c">2023/6/20, 45.861</text></g>
</g>
</svg>
</body></html>
